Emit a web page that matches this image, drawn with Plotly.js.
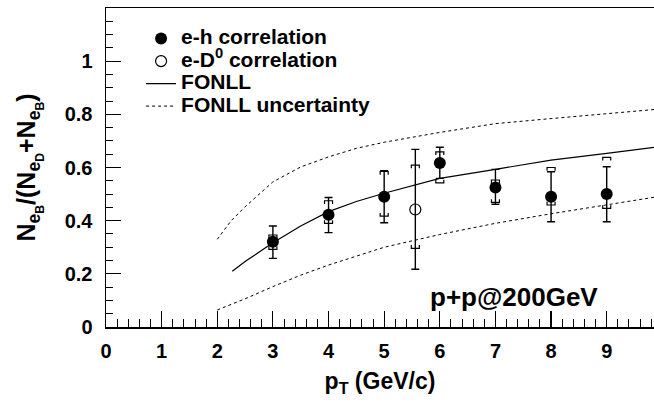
<!DOCTYPE html>
<html><head><meta charset="utf-8">
<script src="https://cdn.plot.ly/plotly-3.0.1.min.js"></script>
<style>html,body{margin:0;padding:0;background:#fff}</style>
</head><body><div id="plot" style="width:654px;height:402px"></div>
<script>
// e-h correlation
const ehPt = [3, 4, 5, 6, 7, 8, 9];
const ehVal = [0.321, 0.422, 0.49, 0.617, 0.525, 0.49, 0.50];
const ehStatHi = [0.38, 0.487, 0.588, 0.676, 0.593, 0.584, 0.603];
const ehStatLo = [0.258, 0.355, 0.392, 0.559, 0.462, 0.396, 0.396];
const ehSysHi = [0.346, 0.475, 0.585, 0.659, 0.553, 0.60, 0.638];
const ehSysLo = [0.292, 0.39, 0.417, 0.542, 0.469, 0.459, 0.446];
// e-D0 correlation
const edPt = [5.56];
const edVal = [0.442];
const edStatHi = [0.668];
const edStatLo = [0.217];
const edSysHi = [0.609];
const edSysLo = [0.296];
// FONLL
const fonllPt = [2.27, 2.5, 3, 3.5, 4, 4.5, 5, 6, 7, 8, 9, 9.85];
const fonllVal = [0.21, 0.246, 0.317, 0.38, 0.434, 0.472, 0.503, 0.559, 0.593, 0.628, 0.653, 0.676];
const upPt = [2, 2.25, 2.5, 3, 3.5, 4, 4.5, 5, 6, 7, 8, 9, 9.85];
const upVal = [0.33, 0.40, 0.452, 0.546, 0.602, 0.64, 0.672, 0.695, 0.732, 0.765, 0.784, 0.802, 0.818];
const loPt = [2, 2.5, 3, 3.5, 4, 4.5, 5, 6, 7, 8, 9, 9.85];
const loVal = [0.064, 0.106, 0.152, 0.195, 0.233, 0.266, 0.30, 0.348, 0.39, 0.426, 0.46, 0.488];
// ticks
const xTicks = [0, 1, 2, 3, 4, 5, 6, 7, 8, 9];
const xTickText = ['0', '1', '2', '3', '4', '5', '6', '7', '8', '9'];
const yTicks = [0, 0.2, 0.4, 0.6, 0.8, 1];
const yTickText = ['0', '0.2', '0.4', '0.6', '0.8', '1'];

const FONT = 'Liberation Sans, Arial, Helvetica, sans-serif';
const BR_DX = 0.072, BR_H = 0.012;

function brackets(xs, hi, lo) {
  const bx = [], by = [];
  xs.forEach((x, i) => {
    bx.push(x - BR_DX, x - BR_DX, x + BR_DX, x + BR_DX, null);
    by.push(hi[i] - BR_H, hi[i], hi[i], hi[i] - BR_H, null);
    bx.push(x - BR_DX, x - BR_DX, x + BR_DX, x + BR_DX, null);
    by.push(lo[i] + BR_H, lo[i], lo[i], lo[i] + BR_H, null);
  });
  return {bx, by};
}
const allX = ehPt.concat(edPt), allHi = ehSysHi.concat(edSysHi), allLo = ehSysLo.concat(edSysLo);
const br = brackets(allX, allHi, allLo);

const span = t => '<span style="font-size:21px">' + t + '</span>';

const traces = [
  {x: upPt, y: upVal, mode: 'lines', line: {color: '#000', width: 1, dash: '3px,3px'}, showlegend: false, hoverinfo: 'skip'},
  {x: loPt, y: loVal, mode: 'lines', line: {color: '#000', width: 1, dash: '3px,3px'}, showlegend: false, hoverinfo: 'skip'},
  {x: fonllPt, y: fonllVal, mode: 'lines', line: {color: '#000', width: 1.2}, showlegend: false},
  {x: br.bx, y: br.by, mode: 'lines', line: {color: '#000', width: 1.2}, connectgaps: false, showlegend: false, hoverinfo: 'skip'},
  {x: ehPt, y: ehVal, mode: 'markers', name: span('e-h correlation'),
   marker: {symbol: 'circle', size: 12, color: '#000'},
   error_y: {type: 'data', symmetric: false,
     array: ehStatHi.map((v, i) => v - ehVal[i]),
     arrayminus: ehVal.map((v, i) => v - ehStatLo[i]),
     color: '#000', thickness: 1.4, width: 4}},
  {x: edPt, y: edVal, mode: 'markers', name: span('e-D<sup>0</sup> correlation'),
   marker: {symbol: 'circle-open', size: 11, color: '#000', line: {width: 1.2, color: '#000'}},
   error_y: {type: 'data', symmetric: false,
     array: edStatHi.map((v, i) => v - edVal[i]),
     arrayminus: edVal.map((v, i) => v - edStatLo[i]),
     color: '#000', thickness: 1.4, width: 4}},
  {x: [null], y: [null], mode: 'lines', name: span('FONLL'), line: {color: '#000', width: 1.2}},
  {x: [null], y: [null], mode: 'lines', name: span('FONLL uncertainty'), line: {color: '#000', width: 1, dash: '3px,3px'}}
];

const layout = {
  width: 654, height: 402,
  margin: {l: 106, r: 0, t: 8, b: 75, pad: 0},
  paper_bgcolor: '#fff', plot_bgcolor: '#fff',
  font: {family: FONT, color: '#000', size: 20, weight: 'bold'},
  showlegend: true,
  legend: {x: 0.064, y: 0.955, xanchor: 'left', yanchor: 'top', bgcolor: 'rgba(0,0,0,0)',
    font: {family: FONT, size: 15, weight: 'bold', color: '#000'}, itemwidth: 30, tracegroupgap: 0},
  xaxis: {range: [0, 9.85], tickmode: 'array', tickvals: xTicks, ticktext: xTickText,
    ticks: 'inside', ticklen: 16, tickwidth: 1.2, tickcolor: '#000',
    showline: true, linecolor: '#000', linewidth: 1.5, mirror: true, showgrid: false, zeroline: false,
    tickfont: {family: FONT, size: 20, weight: 'bold'}, ticklabelstandoff: 5,
    minor: {dtick: 0.2, tick0: 0, ticks: 'inside', ticklen: 8, tickwidth: 1, tickcolor: '#000', showgrid: false},
    title: {text: 'p<sub>T</sub> (GeV/c)', font: {family: FONT, size: 23, weight: 'bold'}, standoff: 12}},
  yaxis: {range: [0, 1.2], tickmode: 'array', tickvals: yTicks, ticktext: yTickText,
    ticks: 'inside', ticklen: 15, tickwidth: 1.2, tickcolor: '#000',
    showline: true, linecolor: '#000', linewidth: 1.5, mirror: false, showgrid: false, zeroline: false,
    tickfont: {family: FONT, size: 20, weight: 'bold'}, ticklabelstandoff: 8,
    minor: {dtick: 0.05, tick0: 0, ticks: 'inside', ticklen: 7, tickwidth: 1, tickcolor: '#000', showgrid: false},
    title: {text: 'N<sub>e<sub>B</sub></sub>/(N<sub>e<sub>D</sub></sub>+N<sub>e<sub>B</sub></sub>)', font: {family: FONT, size: 25, weight: 'bold'}, standoff: 22}},
  annotations: [
    {x: 7.33, y: 0.113, xref: 'x', yref: 'y', text: 'p+p@200GeV', showarrow: false,
     font: {family: FONT, size: 26, weight: 'bold', color: '#000'}, xanchor: 'center', yanchor: 'middle'}
  ]
};

Plotly.newPlot('plot', traces, layout, {staticPlot: true, displayModeBar: false});
</script>
</body></html>
